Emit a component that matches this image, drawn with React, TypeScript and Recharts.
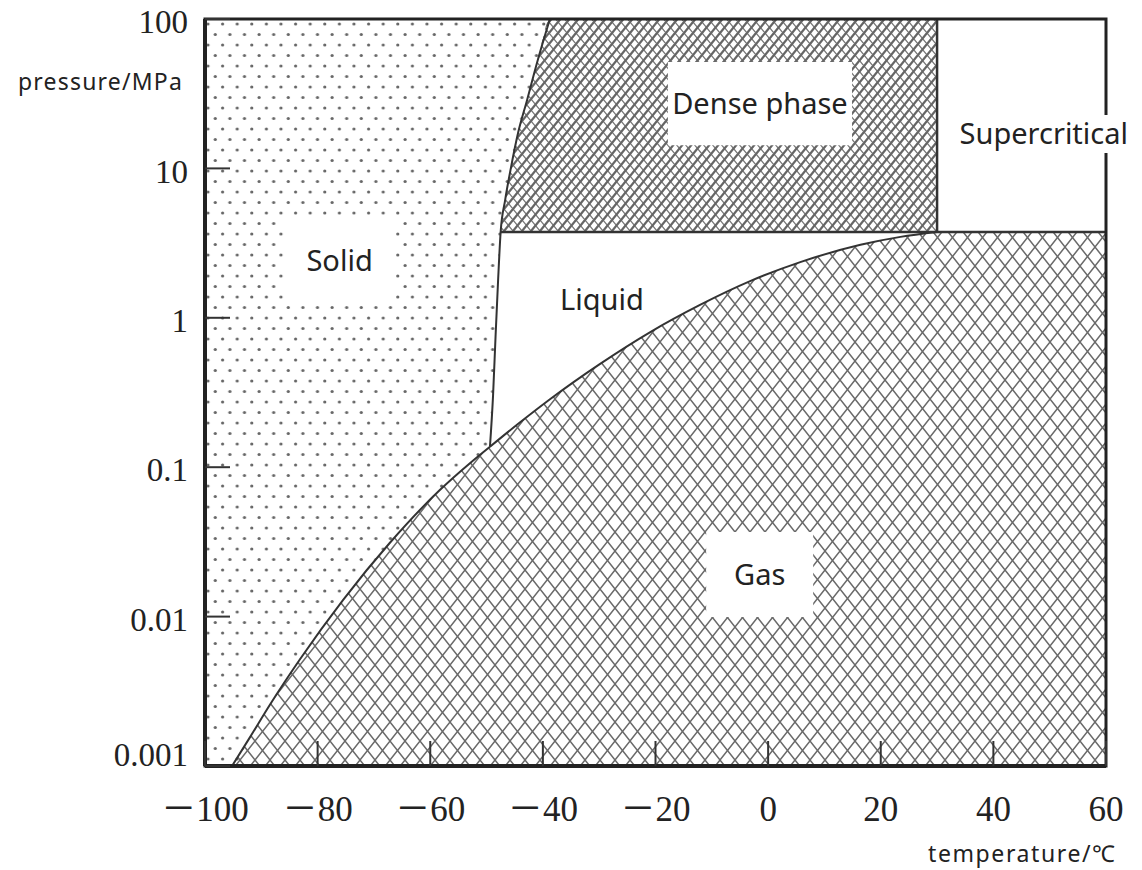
import React from "react";
import { ComposedChart, XAxis, YAxis, Area, Line, ReferenceArea } from "recharts";

/* ── Axis ticks ───────────────────────────────────────────── */
const TEMP_TICKS = [-100, -80, -60, -40, -20, 0, 20, 40, 60];
const PRESSURE_TICKS = [0.001, 0.01, 0.1, 1, 10, 100];
const T_MIN = -100;
const T_MAX = 60;
const P_MIN = 0.001;
const P_MAX = 100;

/* ── Phase boundaries ─────────────────────────────────────── */
// solid–gas
const sublimationT = [-95.2, -92.0, -88.5, -83.1, -75.5, -67.2, -58.3, -52.9, -49.4];
const sublimationP = [0.001, 0.00156, 0.00256, 0.0052, 0.0129, 0.0311, 0.0703, 0.1067, 0.137];
// solid–liquid / solid–dense
const meltingT = [-49.4, -48.85, -48.4, -47.95, -47.5, -46.7, -45.65, -44.4, -42.8, -41.1, -38.75];
const meltingP = [0.137, 0.3, 0.755, 1.79, 3.75, 6.14, 10.2, 17.3, 28.7, 50, 100];
// liquid–gas
const vaporT = [-49.4, -44.1, -38.8, -29.9, -21.0, -12.1, -3.2, 5.7, 16.4, 23.5, 30];
const vaporP = [0.137, 0.199, 0.284, 0.49, 0.80, 1.22, 1.76, 2.36, 3.08, 3.48, 3.75];
// critical point
const criticalT = 30;
const criticalP = 3.75;

/* ── Series built from the arrays ─────────────────────────── */
const toRows = (ts: number[], ps: number[]) => ts.map((t, i) => ({ t, p: ps[i] }));
const sublimation = toRows(sublimationT, sublimationP);
const melting = toRows(meltingT, meltingP);
const vapor = toRows(vaporT, vaporP);

const solidRows = [
  { t: T_MIN, range: [P_MIN, P_MAX] },
  ...sublimation.map((r) => ({ t: r.t, range: [r.p, P_MAX] })),
  ...melting.slice(1).map((r) => ({ t: r.t, range: [r.p, P_MAX] })),
];
const gasRows = [
  ...sublimation.map((r) => ({ t: r.t, range: [P_MIN, r.p] })),
  ...vapor.slice(1).map((r) => ({ t: r.t, range: [P_MIN, r.p] })),
  { t: T_MAX, range: [P_MIN, criticalP] },
];
const denseRows = [
  ...melting.filter((r) => r.p >= criticalP).map((r) => ({ t: r.t, range: [criticalP, r.p] })),
  { t: criticalT, range: [criticalP, P_MAX] },
];
const meltAtCritical = meltingT[meltingP.indexOf(criticalP)];
const criticalIsobar = [
  { t: meltAtCritical, p: criticalP },
  { t: T_MAX, p: criticalP },
];
const criticalIsotherm = [
  { t: criticalT, p: criticalP },
  { t: criticalT, p: P_MAX },
];

/* ── Region labels (white boxes) ──────────────────────────── */
const regionLabels = [
  { name: "Solid", t1: -85.9, t2: -66.3, p1: 1.315, p2: 4.38 },
  { name: "Liquid", t1: -37, t2: -22, p1: 1.0, p2: 1.73 },
  { name: "Dense phase", t1: -17.8, t2: 14.9, p1: 14.3, p2: 51.6 },
  { name: "Gas", t1: -11.0, t2: 8.0, p1: 0.00993, p2: 0.0368 },
  { name: "Supercritical", t1: 32.7, t2: 65.2, p1: 12.7, p2: 22.8 },
];

const INK = "#222";
const SERIF = "'Liberation Serif', 'Times New Roman', serif";
const SANS = "'Noto Sans', 'Noto Sans CJK SC', sans-serif";
const TICK_LEN = 25;
const X_GAP = 30;
const Y_GAP = 17;

function TempTick(props: any) {
  const { x, y, payload } = props;
  const v = payload.value as number;
  const axisY = y - X_GAP;
  return (
    <g>
      <line x1={x} x2={x} y1={axisY} y2={axisY - TICK_LEN} stroke="#333" strokeWidth={2} />
      <text x={x} y={y} dy="0.71em" textAnchor="middle" fontFamily={SERIF} fontSize={35} fill={INK}>
        {v < 0 ? (
          <>
            <tspan fontFamily="'Noto Sans CJK SC'">－</tspan>
            <tspan>{Math.abs(v)}</tspan>
          </>
        ) : (
          String(v)
        )}
      </text>
    </g>
  );
}

function PressureTick(props: any) {
  const { x, y, payload } = props;
  const axisX = x + Y_GAP;
  // the lowest label sits a little above its tick, as in the source figure
  const lift = payload.value === P_MIN ? -14 : 0;
  return (
    <g>
      <line x1={axisX} x2={axisX + TICK_LEN} y1={y} y2={y} stroke="#333" strokeWidth={2} />
      <text x={x} y={y + lift} dy="0.43em" textAnchor="end" fontFamily={SERIF} fontSize={33} fill={INK}>
        {String(payload.value)}
      </text>
    </g>
  );
}

// diamond lattice tile, lines continued into neighbours so corners join cleanly
function latticePath(w: number, h: number) {
  const back = `M${-w},0L${w},${2 * h}M0,0L${w},${h}M0,${-h}L${2 * w},${h}`;
  const fwd = `M${w},0L0,${h}M0,0L${-w},${h}M${2 * w},0L${w},${h}M${w},${-h}L${-w},${h}M${2 * w},${-h}L0,${h}`;
  return { back, fwd };
}

export default function App() {
  const gas = latticePath(15, 19);
  const dense = latticePath(9, 11);
  return (
    <div style={{ position: "absolute", left: 0, top: 0, width: 1142, height: 870, background: "#fff" }}>
      <ComposedChart width={1142} height={870} margin={{ top: 19, right: 36, bottom: 0, left: 0 }}>
        <defs>
          <pattern id="solidDots" patternUnits="userSpaceOnUse" width={14.6} height={21}>
            <circle cx={3.6} cy={3} r={1.6} fill="#666" />
            <circle cx={10.9} cy={13.5} r={1.6} fill="#666" />
          </pattern>
          <pattern id="gasHatch" patternUnits="userSpaceOnUse" width={15} height={19}>
            <path d={gas.back} stroke="#6a6a6a" strokeWidth={1.5} fill="none" />
            <path d={gas.fwd} stroke="#6a6a6a" strokeWidth={1.5} fill="none" />
          </pattern>
          <pattern id="denseHatch" patternUnits="userSpaceOnUse" width={9} height={11}>
            <path d={dense.back} stroke="#777" strokeWidth={1.3} fill="none" />
            <path d={dense.fwd} stroke="#666" strokeWidth={2.3} fill="none" />
          </pattern>
        </defs>

        <XAxis
          dataKey="t"
          type="number"
          domain={[T_MIN, T_MAX]}
          ticks={TEMP_TICKS}
          interval={0}
          allowDataOverflow
          height={104}
          tickSize={0}
          tickMargin={X_GAP}
          tickLine={false}
          axisLine={{ stroke: INK, strokeWidth: 4 }}
          tick={(p: any) => <TempTick {...p} />}
        />
        <YAxis
          type="number"
          scale="log"
          domain={[P_MIN, P_MAX]}
          ticks={PRESSURE_TICKS}
          interval={0}
          allowDataOverflow
          width={205}
          tickSize={0}
          tickMargin={Y_GAP}
          tickLine={false}
          axisLine={{ stroke: INK, strokeWidth: 4 }}
          tick={(p: any) => <PressureTick {...p} />}
        />

        <Area data={solidRows} dataKey="range" type="monotone" stroke="none" fill="url(#solidDots)" fillOpacity={1} isAnimationActive={false} />
        <Area data={gasRows} dataKey="range" type="monotone" stroke="none" fill="url(#gasHatch)" fillOpacity={1} isAnimationActive={false} />
        <Area data={denseRows} dataKey="range" type="monotone" stroke="none" fill="url(#denseHatch)" fillOpacity={1} isAnimationActive={false} />

        <Line data={sublimation} dataKey="p" type="monotone" stroke="#333" strokeWidth={2} dot={false} isAnimationActive={false} />
        <Line data={melting} dataKey="p" type="monotone" stroke="#333" strokeWidth={2} dot={false} isAnimationActive={false} />
        <Line data={vapor} dataKey="p" type="monotone" stroke="#333" strokeWidth={2} dot={false} isAnimationActive={false} />
        <Line data={criticalIsobar} dataKey="p" type="linear" stroke="#333" strokeWidth={2.5} dot={false} isAnimationActive={false} />
        <Line data={criticalIsotherm} dataKey="p" type="linear" stroke="#333" strokeWidth={2.5} dot={false} isAnimationActive={false} />

        <ReferenceArea
          x1={T_MIN}
          x2={T_MAX}
          y1={P_MIN}
          y2={P_MAX}
          fill="none"
          stroke={INK}
          strokeWidth={3}
          ifOverflow="visible"
          zIndex={1500}
        />
        {regionLabels.map((r) => (
          <ReferenceArea
            key={r.name}
            x1={r.t1}
            x2={r.t2}
            y1={r.p1}
            y2={r.p2}
            fill="#fff"
            fillOpacity={1}
            stroke="none"
            ifOverflow="visible"
            zIndex={1600}
            label={{ value: r.name, position: "center", fill: INK, fontSize: 29, fontFamily: SANS }}
          />
        ))}

        <text x={18} y={90} fontFamily={SANS} fontSize={23} letterSpacing={1.2} fill={INK}>
          pressure/MPa
        </text>
        <text x={928} y={862} fontFamily={SANS} fontSize={23} letterSpacing={1.6} fill={INK}>
          temperature/℃
        </text>
      </ComposedChart>
    </div>
  );
}
